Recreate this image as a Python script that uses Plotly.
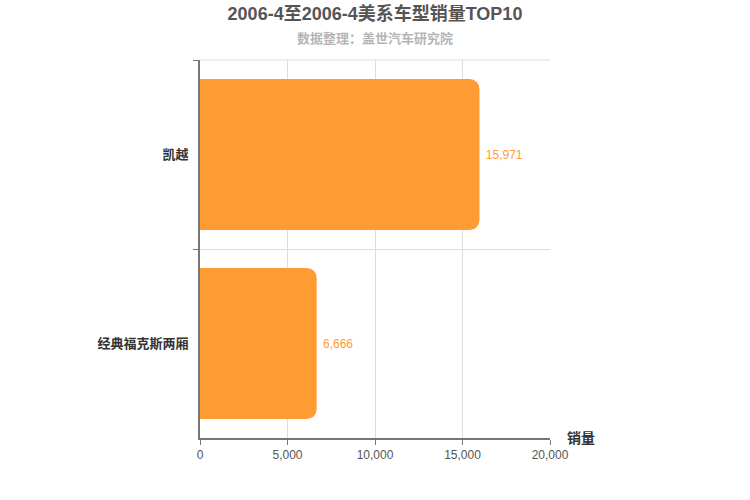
import plotly.graph_objects as go

categories = ["凯越", "经典福克斯两厢"]
values = [15971, 6666]
x_ticks = [0, 5000, 10000, 15000, 20000]
x_tick_labels = ["0", "5,000", "10,000", "15,000", "20,000"]

FONT = "Liberation Sans, Arial, Noto Sans CJK SC, sans-serif"
BAR = "#ff9b33"

W, H = 750, 500
ML, MR, MT, MB = 200, 200, 60, 62
PH = H - MT - MB

fig = go.Figure()
fig.add_trace(go.Bar(
    y=categories,
    x=values,
    orientation="h",
    marker=dict(color=BAR, cornerradius=10, line=dict(width=0)),
    text=[f" {v:,}" for v in values],
    textposition="outside",
    textfont=dict(color=BAR, size=12, family=FONT),
    cliponaxis=False,
    hoverinfo="skip",
))

fig.update_layout(
    width=W, height=H,
    margin=dict(l=ML, r=MR, t=MT, b=MB, autoexpand=False),
    paper_bgcolor="white", plot_bgcolor="white",
    bargap=0.2,
    showlegend=False,
    font=dict(family=FONT),
    title=dict(
        text="<b>2006-4至2006-4美系车型销量TOP10</b>",
        x=0.5, xanchor="center", y=1 - 14 / H, yanchor="middle",
        font=dict(size=18, color="#555555", family=FONT),
    ),
    annotations=[
        dict(text="<b>数据整理：盖世汽车研究院</b>", xref="paper", yref="paper",
             x=0.5, y=(H - 39 - MB) / PH, xanchor="center", yanchor="middle", showarrow=False,
             font=dict(size=13, color="#b5b5b5", family=FONT)),
        dict(text="<b>销量</b>", xref="paper", yref="paper",
             x=1.043, y=0.0, xanchor="left", yanchor="middle", showarrow=False,
             font=dict(size=14, color="#333333", family=FONT)),
    ],
    shapes=[
        dict(type="line", xref="paper", yref="paper", x0=0, x1=1, y0=1, y1=1,
             line=dict(color="#dddddd", width=1), layer="below"),
    ],
    xaxis=dict(
        range=[0, 20000], tickvals=x_ticks, ticktext=x_tick_labels,
        showgrid=True, gridcolor="#dddddd", gridwidth=1,
        showline=True, linecolor="#777777", linewidth=1.5,
        ticks="outside", ticklen=5, tickcolor="#777777",
        tickfont=dict(size=12, color="#555555", family=FONT),
        zeroline=False, fixedrange=True, automargin=False,
    ),
    yaxis=dict(
        categoryorder="array", categoryarray=categories, autorange="reversed",
        tickson="boundaries", ticks="outside", ticklen=5, tickcolor="#777777",
        showgrid=True, gridcolor="#dddddd", gridwidth=1,
        showline=True, linecolor="#777777", linewidth=1.5,
        tickfont=dict(size=13, color="#333333", family=FONT),
        tickprefix="<b>", ticksuffix="</b>  ",
        zeroline=False, fixedrange=True, automargin=False,
    ),
)

fig.write_html("out.html", config={"displayModeBar": False},
               post_script="document.body.style.margin='0';")
